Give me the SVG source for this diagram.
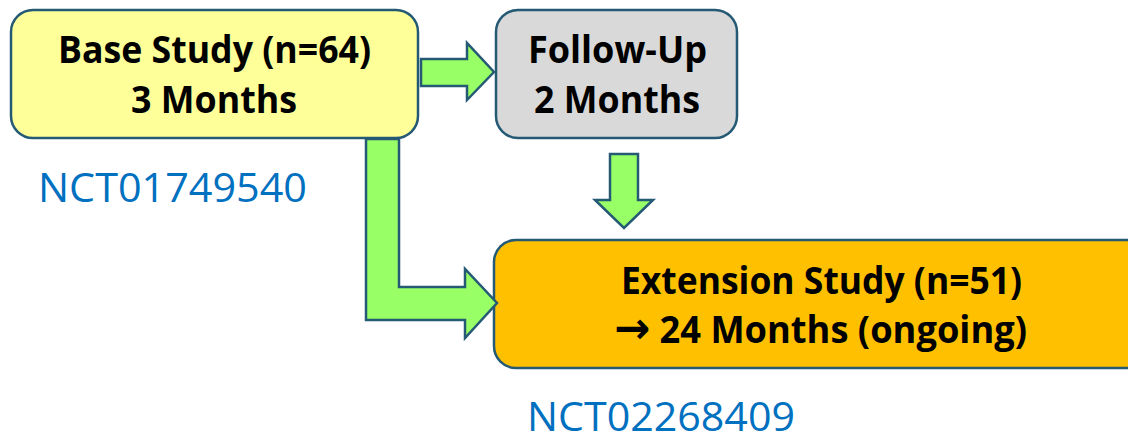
<svg xmlns="http://www.w3.org/2000/svg" width="1128" height="434" viewBox="0 0 1128 434">
<style>
.box{stroke:#255A75;stroke-width:2.5}
.t{font-family:"Open Sans","Liberation Sans",sans-serif;font-weight:bold;font-size:37px;fill:#000}
.ar{font-family:"DejaVu Sans",sans-serif;font-weight:bold;font-size:44px}
.nct{font-family:"Open Sans","Liberation Sans",sans-serif;font-size:40px;fill:#0070C0}
.arr{fill:#99FF66;stroke:#255A75;stroke-width:2.5;stroke-linejoin:miter}
</style>
<rect width="1128" height="434" fill="#fff"/>
<g id="base">
<rect class="box" x="11" y="10" width="407" height="128" rx="22" fill="#FFFF99"/>
<text class="t" x="58" y="63" textLength="313" lengthAdjust="spacingAndGlyphs">Base Study (n=64)</text>
<text class="t" x="131" y="113" textLength="166" lengthAdjust="spacingAndGlyphs">3 Months</text>
</g>
<g id="followup">
<rect class="box" x="496" y="10" width="241" height="128" rx="22" fill="#D9D9D9"/>
<text class="t" x="528" y="63" textLength="179" lengthAdjust="spacingAndGlyphs">Follow-Up</text>
<text class="t" x="534" y="113" textLength="166" lengthAdjust="spacingAndGlyphs">2 Months</text>
</g>
<g id="extension">
<rect class="box" x="494" y="240" width="660" height="128" rx="22" fill="#FFC000"/>
<text class="t" x="621" y="294" textLength="401" lengthAdjust="spacingAndGlyphs">Extension Study (n=51)</text>
<text class="t" x="614" y="343" textLength="413" lengthAdjust="spacingAndGlyphs"><tspan class="ar">→</tspan> 24 Months (ongoing)</text>
</g>
<g id="label-base">
<text class="nct" x="38" y="202" textLength="269" lengthAdjust="spacingAndGlyphs">NCT01749540</text>
</g>
<g id="label-extension">
<text class="nct" x="527" y="431" textLength="268" lengthAdjust="spacingAndGlyphs">NCT02268409</text>
</g>
<g id="connectors">
<polygon class="arr" points="421,59 467,59 467,43 494,72 467,100 467,86 421,86"/>
<polygon class="arr" points="610,154 638,154 638,200 653,200 624,228 595,200 610,200"/>
<polygon class="arr" points="366,139 399,139 399,287 465,287 465,269 497,303 465,338 465,320 366,320"/>
</g>
</svg>
